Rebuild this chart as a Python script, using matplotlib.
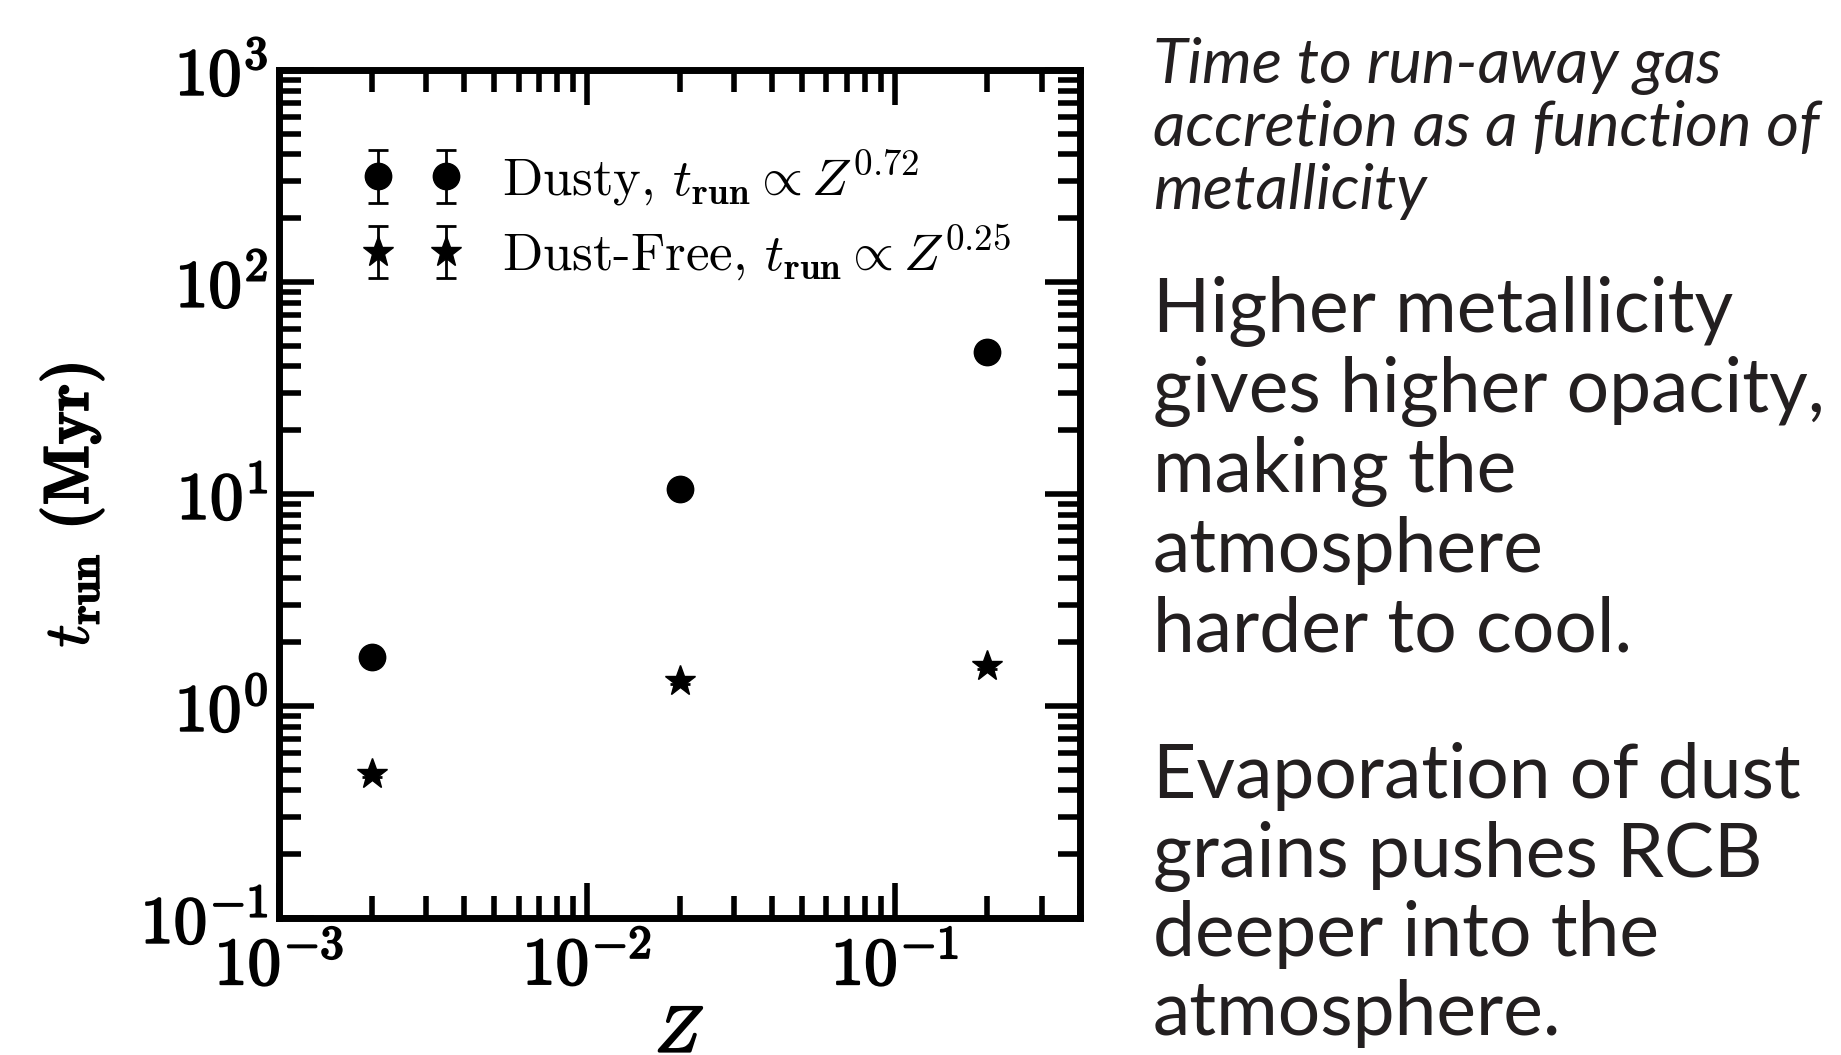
import matplotlib
matplotlib.use("Agg")
import matplotlib.pyplot as plt
import matplotlib.patheffects as pe

plt.rcParams['font.family'] = 'cmr10'
plt.rcParams['mathtext.fontset'] = 'cm'
plt.rcParams['axes.formatter.use_mathtext'] = True

# metallicity and run-away time (Myr)
Z = [0.002, 0.02, 0.2]
t_dusty = [1.71, 10.6, 47.0]
t_dustfree = [0.477, 1.31, 1.54]
err_dusty = [0.05, 0.3, 1.2]
err_dustfree = [0.015, 0.04, 0.05]

label_dusty = r"Dusty, $t_{\mathbf{run}} \propto Z^{\mathbf{0.72}}$"
label_dustfree = r"Dust-Free, $t_{\mathbf{run}} \propto Z^{\mathbf{0.25}}$"

note_title = ["Time to run-away gas", "accretion as a function of", "metallicity"]
note_opacity = ["Higher metallicity", "gives higher opacity,", "making the",
                "atmosphere", "harder to cool."]
note_dust = ["Evaporation of dust", "grains pushes RCB", "deeper into the",
             "atmosphere."]

W, H = 1841, 1055
fig = plt.figure(figsize=(W / 100, H / 100), dpi=100)
ax = fig.add_axes([279 / W, 1 - 918 / H, 801 / W, 848 / H])

ax.errorbar(Z, t_dusty, yerr=err_dusty, fmt='o', color='k', ms=19,
            elinewidth=2, capsize=7, capthick=2, label=label_dusty)
ax.errorbar(Z, t_dustfree, yerr=err_dustfree, fmt='*', color='k', ms=23,
            elinewidth=2, capsize=7, capthick=2, label=label_dustfree)

ax.set_xscale('log')
ax.set_yscale('log')
ax.set_xlim(1e-3, 0.4)
ax.set_ylim(0.1, 1000)

for s in ax.spines.values():
    s.set_linewidth(5)
ax.tick_params(which='both', direction='in', top=True, right=True)
ax.tick_params(which='major', length=25, width=4, labelsize=48)
ax.tick_params(which='minor', length=16, width=4)
ax.tick_params(axis='x', which='major', pad=12)
ax.tick_params(axis='y', which='major', pad=8)

# the reference uses heavy (bold) Computer Modern for the axis text
heavy = [pe.withStroke(linewidth=1.5, foreground='k')]
for lab in ax.get_xticklabels() + ax.get_yticklabels():
    lab.set_path_effects(heavy)

xl = ax.set_xlabel(r"$Z$", fontsize=47, va='top')
xl.set_path_effects(heavy)
ax.xaxis.set_label_coords(0.5, -0.105)
yl = ax.set_ylabel(r"$t_{\mathbf{run}}$ (Myr)", fontsize=46, family='cmb10')
yl.set_path_effects([pe.withStroke(linewidth=1.0, foreground='k')])
ax.yaxis.set_label_coords(-0.216, 0.487)

leg = ax.legend(loc='upper left', bbox_to_anchor=(0.0, 1.007), frameon=False,
                numpoints=2, prop={'family': 'cmr10', 'size': 38},
                handlelength=1.9, handletextpad=0.75, borderpad=0.4,
                borderaxespad=1.17, labelspacing=0.28)

ink = '#231f20'
x0 = 1153 / W
for i, line in enumerate(note_title):
    fig.text(x0, 1 - (83 + i * 63) / H, line, fontsize=45.5, style='italic',
             family='Lato', color=ink, va='baseline')
for i, line in enumerate(note_opacity):
    fig.text(x0, 1 - (332 + i * 80) / H, line, fontsize=54,
             family='Lato', color=ink, va='baseline')
for i, line in enumerate(note_dust):
    fig.text(x0, 1 - (798 + i * 79) / H, line, fontsize=54,
             family='Lato', color=ink, va='baseline')

plt.savefig("out.png", dpi=100)
